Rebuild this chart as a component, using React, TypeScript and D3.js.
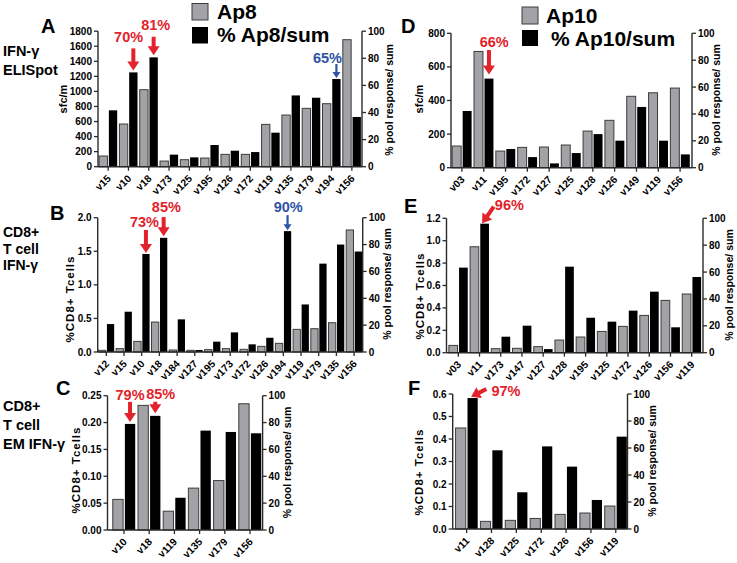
import React from 'react';
import * as d3 from 'd3';

// ---------------- DATA ----------------
// Panel A: IFN-γ ELISpot, Ap8
const catsA = ['v15', 'v10', 'v18', 'v173', 'v125', 'v195', 'v126', 'v172', 'v119', 'v135', 'v179', 'v194', 'v156'];
const sfcA = [142, 567, 1023, 75, 93, 115, 164, 164, 562, 686, 775, 837, 1687];
const pctA = [41.6, 69.6, 80.7, 8.9, 6.9, 16, 11.8, 10.8, 25.1, 52.6, 50.9, 64.7, 36.7];
const ticksA = [0, 200, 400, 600, 800, 1000, 1200, 1400, 1600, 1800];

// Panel B: CD8+ T cell IFN-γ, Ap8
const catsB = ['v12', 'v15', 'v10', 'v18', 'v184', 'v127', 'v195', 'v173', 'v172', 'v126', 'v194', 'v119', 'v179', 'v135', 'v156'];
const cd8B = [0.025, 0.05, 0.158, 0.446, 0.03, 0.025, 0.035, 0.05, 0.04, 0.084, 0.129, 0.337, 0.347, 0.436, 1.817];
const pctB = [20.8, 30, 73, 85, 24.3, 1.5, 7.7, 14.6, 5.7, 10.6, 90, 35.4, 65.8, 80, 74.8];
const ticksB = [0, 0.5, 1.0, 1.5, 2.0];

// Panel C: CD8+ T cell EM IFN-γ, Ap8
const catsC = ['v10', 'v18', 'v119', 'v135', 'v179', 'v156'];
const cd8C = [0.057, 0.232, 0.035, 0.078, 0.092, 0.235];
const pctC = [79, 85, 24, 74, 73, 72];
const ticksC = [0, 0.05, 0.1, 0.15, 0.2, 0.25];

// Panel D: IFN-γ ELISpot, Ap10
const catsD = ['v03', 'v11', 'v195', 'v172', 'v127', 'v125', 'v128', 'v126', 'v149', 'v119', 'v156'];
const sfcD = [129, 692, 99, 121, 123, 135, 218, 282, 425, 446, 474];
const pctD = [42.2, 66.3, 13.9, 7.9, 3.2, 10.9, 25, 20.1, 45.2, 20.1, 9.9];
const ticksD = [0, 200, 400, 600, 800];

// Panel E: CD8+ T cell IFN-γ, Ap10
const catsE = ['v03', 'v11', 'v173', 'v147', 'v127', 'v128', 'v195', 'v125', 'v172', 'v126', 'v156', 'v119'];
const cd8E = [0.065, 0.946, 0.036, 0.039, 0.054, 0.113, 0.14, 0.19, 0.235, 0.333, 0.467, 0.524];
const pctE = [63.3, 96, 11.9, 20.1, 2.7, 64, 26, 23.1, 31.3, 45.4, 18.9, 56.3];
const ticksE = [0, 0.2, 0.4, 0.6, 0.8, 1.0, 1.2];

// Panel F: CD8+ T cell EM IFN-γ, Ap10
const catsF = ['v11', 'v128', 'v125', 'v172', 'v126', 'v156', 'v119'];
const cd8F = [0.449, 0.034, 0.0385, 0.047, 0.065, 0.071, 0.102];
const pctF = [97, 58.3, 27.2, 61.2, 46.2, 21.5, 68.4];
const ticksF = [0, 0.1, 0.2, 0.3, 0.4, 0.5, 0.6];

const pctTicks = [0, 20, 40, 60, 80, 100];

// annotations (category + label)
const annCatsA = ['v10', 'v18', 'v194'];
const annLabelsA = ['70%', '81%', '65%'];
const annCatsB = ['v10', 'v18', 'v194'];
const annLabelsB = ['73%', '85%', '90%'];
const annCatsC = ['v10', 'v18'];
const annLabelsC = ['79%', '85%'];
const annCatsD = ['v11'];
const annLabelsD = ['66%'];
const annCatsE = ['v11'];
const annLabelsE = ['96%'];
const annCatsF = ['v11'];
const annLabelsF = ['97%'];

// ---------------- STYLE ----------------
const FONT = '"Liberation Sans", Arial, Helvetica, sans-serif';
const RED = '#e3232b';
const BLUE = '#2e54a4';
const GRAYFILL = '#a3a3a7';
const AXIS = '#2a2a2a';

type AnnStyle = {
  color: string; shaft: number; headW: number; headH: number;
  tip: [number, number]; start: [number, number]; text: [number, number]; anchor: string;
};

const redDown = (gap: number, len: number, tdx: number, tdy: number): AnnStyle => ({
  color: RED, shaft: 4, headW: 12, headH: 9, tip: [0, -gap], start: [0, -len], text: [tdx, tdy], anchor: 'middle',
});
const blueDown = (gap: number, len: number, tdx: number, tdy: number): AnnStyle => ({
  color: BLUE, shaft: 2.2, headW: 8, headH: 6, tip: [0, -gap], start: [0, -len], text: [tdx, tdy], anchor: 'middle',
});

function Arrow({ x1, y1, x2, y2, color, shaft, headW, headH }: any) {
  const dx = x2 - x1, dy = y2 - y1;
  const L = Math.hypot(dx, dy);
  const ux = dx / L, uy = dy / L;
  const bx = x2 - ux * headH, by = y2 - uy * headH;
  const nx = -uy, ny = ux;
  return (
    <g>
      <line x1={x1} y1={y1} x2={bx + ux} y2={by + uy} stroke={color} strokeWidth={shaft} />
      <polygon
        points={`${x2},${y2} ${bx + (nx * headW) / 2},${by + (ny * headW) / 2} ${bx - (nx * headW) / 2},${by - (ny * headW) / 2}`}
        fill={color}
      />
    </g>
  );
}

function Panel(props: any) {
  const { cats, gray, pct, ticks, fmt, band, axL, axR, yBase, yTop, annCats, annLabels, annStyles, leftTitle, leftTitleX, leftTitleY, rightTitleX, rightTitleY, leftLS } = props;
  const x = d3.scaleBand<string>().domain(cats).range(band).padding(0);
  const bw = x.bandwidth();
  const w = bw * 0.41;
  const g = bw * 0.035;
  const yL = d3.scaleLinear().domain([0, ticks[ticks.length - 1]]).range([yBase, yTop]);
  const yR = d3.scaleLinear().domain([0, 100]).range([yBase, yTop]);
  const f = d3.format(fmt);
  const cx = (c: string) => (x(c) as number) + bw / 2;
  return (
    <g>
      {cats.map((c: string, i: number) => (
        <g key={c + i}>
          <rect x={cx(c) - g - w} y={yL(gray[i])} width={w} height={yBase - yL(gray[i])} fill={GRAYFILL} stroke="#3c3c3c" strokeWidth={1} />
          <rect x={cx(c) + g} y={yR(pct[i])} width={w} height={yBase - yR(pct[i])} fill="#000" />
        </g>
      ))}
      {/* left axis */}
      <line x1={axL} x2={axL} y1={yBase} y2={yTop} stroke={AXIS} strokeWidth={1.4} />
      {ticks.map((t: number) => (
        <g key={'l' + t}>
          <line x1={axL - 4} x2={axL} y1={yL(t)} y2={yL(t)} stroke={AXIS} strokeWidth={1.3} />
          <text x={axL - 6} y={yL(t)} dy="0.35em" textAnchor="end" fontSize={10} fontWeight="bold" fontFamily={FONT}>{f(t)}</text>
        </g>
      ))}
      {/* right axis */}
      <line x1={axR} x2={axR} y1={yBase} y2={yTop} stroke={AXIS} strokeWidth={1.4} />
      {pctTicks.map((t: number) => (
        <g key={'r' + t}>
          <line x1={axR} x2={axR + 4} y1={yR(t)} y2={yR(t)} stroke={AXIS} strokeWidth={1.3} />
          <text x={axR + 6} y={yR(t)} dy="0.35em" textAnchor="start" fontSize={10} fontWeight="bold" fontFamily={FONT}>{t}</text>
        </g>
      ))}
      {/* x axis */}
      <line x1={axL} x2={axR} y1={yBase} y2={yBase} stroke={AXIS} strokeWidth={1.4} />
      {cats.map((c: string) => (
        <g key={'x' + c}>
          <line x1={cx(c)} x2={cx(c)} y1={yBase} y2={yBase + 4} stroke={AXIS} strokeWidth={1.3} />
          <text transform={`translate(${cx(c) + 3.5},${yBase + 12.5}) rotate(-45)`} textAnchor="end" fontSize={10.3} fontWeight="bold" fontFamily={FONT}>{c}</text>
        </g>
      ))}
      {/* axis titles */}
      <text transform={`translate(${leftTitleX},${leftTitleY}) rotate(-90)`} textAnchor="middle" fontSize={leftTitle === 'sfc/m' ? 11 : 11.5} letterSpacing={leftLS} fontWeight="bold" fontFamily={FONT}>{leftTitle}</text>
      <text transform={`translate(${rightTitleX},${rightTitleY}) rotate(-90)`} textAnchor="middle" fontSize={10.5} fontWeight="bold" fontFamily={FONT}>% pool response/ sum</text>
      {/* annotations */}
      {annCats.map((c: string, k: number) => {
        const st: AnnStyle = annStyles[k];
        const i = cats.indexOf(c);
        const bx = cx(c) + g + w / 2;
        const by = yR(pct[i]);
        const tx = bx + st.tip[0], ty = by + st.tip[1];
        return (
          <g key={'a' + c}>
            <Arrow x1={tx + st.start[0]} y1={ty + st.start[1]} x2={tx} y2={ty} color={st.color} shaft={st.shaft} headW={st.headW} headH={st.headH} />
            <text x={tx + st.text[0]} y={ty + st.text[1]} textAnchor={st.anchor} fontSize={14.5} fontWeight="bold" fill={st.color} fontFamily={FONT}>{annLabels[k]}</text>
          </g>
        );
      })}
    </g>
  );
}

function SideLabel({ x, lines, size }: any) {
  return (
    <g>
      {lines.map((l: [string, number]) => (
        <text key={l[0]} x={x} y={l[1]} fontSize={size} fontWeight="bold" fontFamily={FONT}>{l[0]}</text>
      ))}
    </g>
  );
}

export default function App() {
  return (
    <svg width={737} height={563} style={{ position: 'absolute', left: 0, top: 0, background: '#fff' }}>
      {/* Legends */}
      <rect x={192} y={3.5} width={16} height={16.5} fill={GRAYFILL} stroke="#3c3c3c" strokeWidth={1} />
      <text x={217} y={19} fontSize={21} fontWeight="bold" fontFamily={FONT}>Ap8</text>
      <rect x={192} y={27} width={16} height={16.5} fill="#000" />
      <text x={217} y={42} fontSize={21} fontWeight="bold" fontFamily={FONT}>% Ap8/sum</text>

      <rect x={522} y={7} width={16} height={17} fill={GRAYFILL} stroke="#3c3c3c" strokeWidth={1} />
      <text x={546} y={23} fontSize={21} fontWeight="bold" fontFamily={FONT}>Ap10</text>
      <rect x={522} y={30} width={16} height={16} fill="#000" />
      <text x={551} y={46} fontSize={21} fontWeight="bold" fontFamily={FONT}>% Ap10/sum</text>

      {/* Panel letters */}
      <text x={41} y={32.7} fontSize={20} fontWeight="bold" fontFamily={FONT}>A</text>
      <text x={50} y={220} fontSize={20} fontWeight="bold" fontFamily={FONT}>B</text>
      <text x={56} y={395} fontSize={20} fontWeight="bold" fontFamily={FONT}>C</text>
      <text x={401} y={33.3} fontSize={20} fontWeight="bold" fontFamily={FONT}>D</text>
      <text x={404} y={212.7} fontSize={20} fontWeight="bold" fontFamily={FONT}>E</text>
      <text x={408} y={395} fontSize={20} fontWeight="bold" fontFamily={FONT}>F</text>

      <SideLabel x={3} size={14.5} lines={[['IFN-γ', 56], ['ELISpot', 75]]} />
      <SideLabel x={3} size={14} lines={[['CD8+', 237], ['T cell', 254], ['IFN-γ', 270]]} />
      <SideLabel x={3} size={14.5} lines={[['CD8+', 411], ['T cell', 430], ['EM IFN-γ', 448.5]]} />

      <Panel cats={catsA} gray={sfcA} pct={pctA} ticks={ticksA} fmt="d" band={[98, 362]} axL={98} axR={362}
        yBase={166.7} yTop={31.2} annCats={annCatsA} annLabels={annLabelsA}
        annStyles={[redDown(2, 22, -4.7, -28.6), redDown(2, 18.6, 2, -25.3), blueDown(1, 14, -9, -15)]}
        leftTitle="sfc/m" leftTitleX={66.5} leftTitleY={99} rightTitleX={393} rightTitleY={100} leftLS={0} />

      <Panel cats={catsB} gray={cd8B} pct={pctB} ticks={ticksB} fmt=".1f" band={[97.45, 362.95]} axL={97.7} axR={362.7}
        yBase={352} yTop={217.7} annCats={annCatsB} annLabels={annLabelsB}
        annStyles={[redDown(1, 23, -1.5, -26), redDown(1.5, 19.3, 2.7, -24.3), blueDown(1, 15, 0.7, -18.3)]}
        leftTitle="%CD8+ Tcells" leftTitleX={74} leftTitleY={299} rightTitleX={391} rightTitleY={284} leftLS={1} />

      <Panel cats={catsC} gray={cd8C} pct={pctC} ticks={ticksC} fmt=".2f" band={[111.4, 262.6]} axL={107.5} axR={262.6}
        yBase={530} yTop={395.7} annCats={annCatsC} annLabels={annLabelsC}
        annStyles={[redDown(2, 20, 0, -22.4), redDown(2.5, 11.6, 5.5, -14.3)]}
        leftTitle="%CD8+ Tcells" leftTitleX={80} leftTitleY={470} rightTitleX={290.5} rightTitleY={462.5} leftLS={1} />

      <Panel cats={catsD} gray={sfcD} pct={pctD} ticks={ticksD} fmt="d" band={[451, 691]} axL={451} axR={692}
        yBase={167.7} yTop={33.3} annCats={annCatsD} annLabels={annLabelsD}
        annStyles={[redDown(4, 24.6, 5.3, -27.6)]}
        leftTitle="sfc/m" leftTitleX={423.3} leftTitleY={99} rightTitleX={719.5} rightTitleY={100} leftLS={0} />

      <Panel cats={catsE} gray={cd8E} pct={pctE} ticks={ticksE} fmt=".1f" band={[447.7, 702.3]} axL={446.5} axR={703}
        yBase={352.7} yTop={218.3} annCats={annCatsE} annLabels={annLabelsE}
        annStyles={[{ color: RED, shaft: 4, headW: 12, headH: 9, tip: [-2.5, -0.4], start: [11.7, -16.6], text: [12.7, -13.3], anchor: 'start' }]}
        leftTitle="%CD8+ Tcells" leftTitleX={424} leftTitleY={296} rightTitleX={732.5} rightTitleY={285} leftLS={1} />

      <Panel cats={catsF} gray={cd8F} pct={pctF} ticks={ticksF} fmt=".1f" band={[454.2, 628.2]} axL={452.7} axR={627.5}
        yBase={529} yTop={394} annCats={annCatsF} annLabels={annLabelsF}
        annStyles={[{ color: RED, shaft: 4, headW: 12, headH: 9, tip: [-1.5, -1.3], start: [15.3, -7.7], text: [20.3, -0.7], anchor: 'start' }]}
        leftTitle="%CD8+ Tcells" leftTitleX={423.3} leftTitleY={472} rightTitleX={656} rightTitleY={461} leftLS={1} />
    </svg>
  );
}
